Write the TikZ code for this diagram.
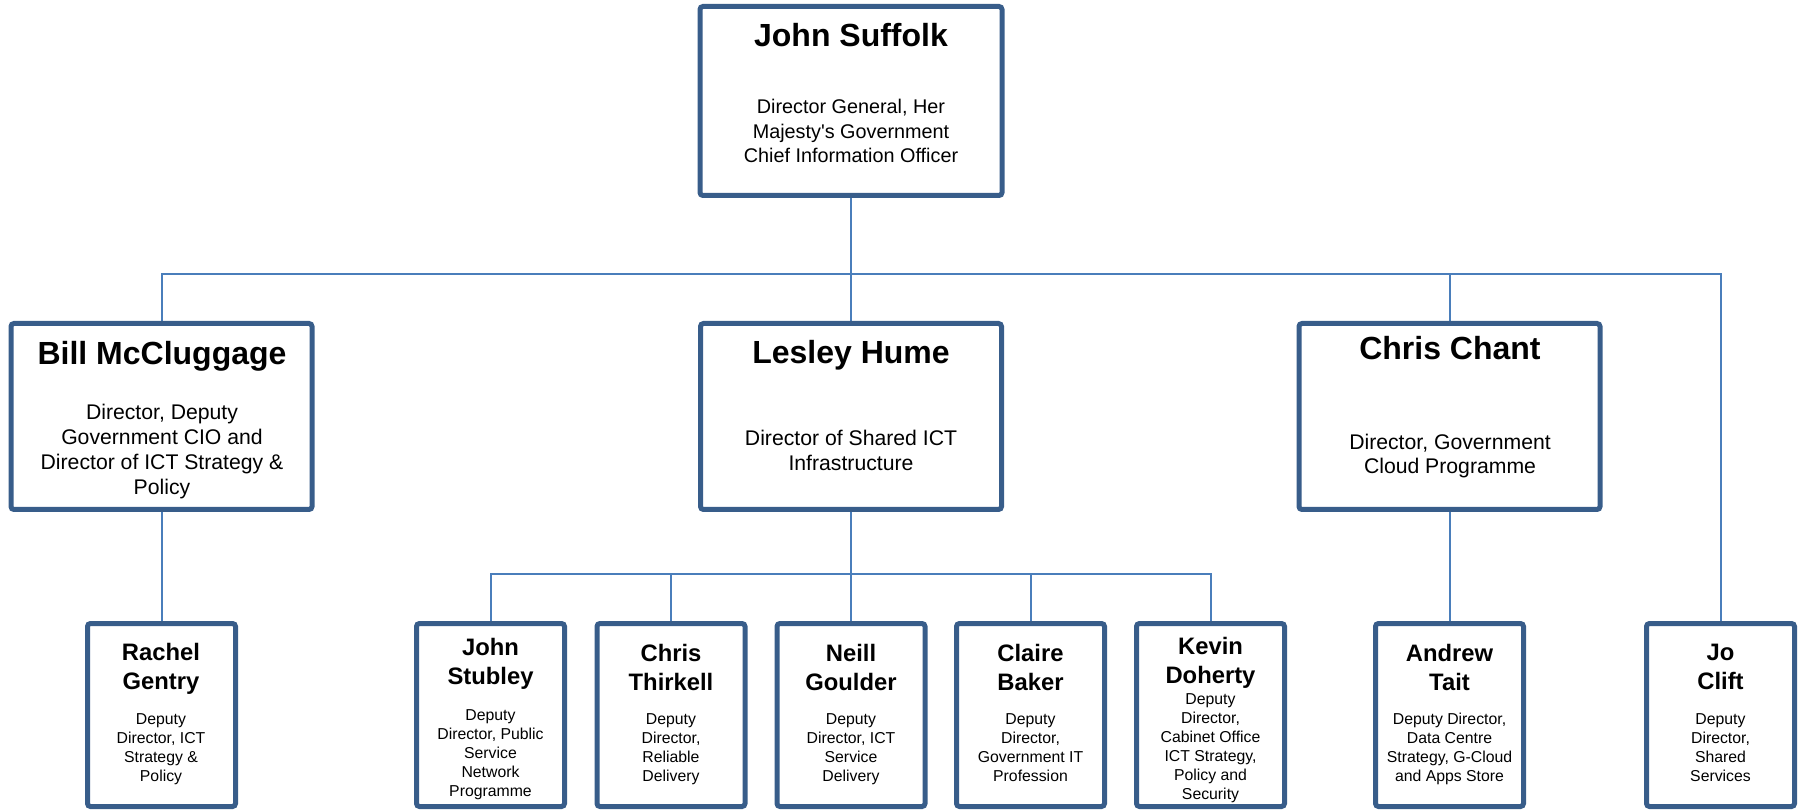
\documentclass[tikz,border=0pt]{standalone}
\usepackage{fontspec}
\setmainfont{Liberation Sans}[Ligatures=TeXOff]
\usetikzlibrary{backgrounds}

\definecolor{boxblue}{HTML}{385D8A}
\definecolor{lineblue}{HTML}{4A7EBB}

\tikzset{
	person/.style={draw=boxblue, line width=2.5pt, fill=white, rounded corners=1.5pt, inner sep=0pt},
	chief/.style={person, minimum width=151pt, minimum height=94.5pt},
	director/.style={person, minimum width=150.5pt, minimum height=93pt},
	deputy/.style={person, minimum width=74pt, minimum height=91.5pt},
	bigname/.style={font=\bfseries\fontsize{16}{19}\selectfont, inner sep=0pt, anchor=base},
	smallname/.style={font=\bfseries\fontsize{11.9}{14.5}\selectfont, align=center, inner sep=0pt, anchor=north},
	bigrole/.style={font=\fontsize{10.6}{12.5}\selectfont, align=center, inner sep=0pt, anchor=north},
	smallrole/.style={font=\fontsize{7.9}{9.5}\selectfont, align=center, inner sep=0pt, anchor=north},
	link/.style={draw=lineblue, line width=1pt}
}

\begin{document}
\begin{tikzpicture}[x=0.5pt, y=-0.5pt]
	\useasboundingbox (0,0) rectangle (1800,812);

	% top
	\node[chief] (suffolk) at (851,101) {};
	\node[bigname] (suffolkname) at (851,47) {John Suffolk};
	\node[bigrole, font=\fontsize{9.9}{12.25}\selectfont] (suffolkrole) at (851,99) {Director General, Her\\Majesty's Government\\Chief Information Officer};

	% directors
	\node[director] (mccluggage) at (161.5,416.5) {};
	\node[bigname] (mccluggagename) at (162,365) {Bill McCluggage};
	\node[bigrole] (mccluggagerole) at (162,404) {Director, Deputy\\Government CIO and\\Director of ICT Strategy \&\\Policy};

	\node[director] (hume) at (851,416.5) {};
	\node[bigname] (humename) at (851,364) {Lesley Hume};
	\node[bigrole] (humerole) at (851,430) {Director of Shared ICT\\Infrastructure};

	\node[director] (chant) at (1449.5,416.5) {};
	\node[bigname] (chantname) at (1450,360) {Chris Chant};
	\node[bigrole, font=\fontsize{10.6}{12}\selectfont] (chantrole) at (1450,434) {Director, Government\\Cloud Programme};

	% deputies
	\node[deputy] (gentry) at (161.5,715) {};
	\node[smallname] at (161,643) {Rachel\\Gentry};
	\node[smallrole] at (161,713) {Deputy\\Director, ICT\\Strategy \&\\Policy};

	\node[deputy] (stubley) at (490.5,715) {};
	\node[smallname] at (490.5,638) {John\\Stubley};
	\node[smallrole] at (490.5,709) {Deputy\\Director, Public\\Service\\Network\\Programme};

	\node[deputy] (thirkell) at (671,715) {};
	\node[smallname] at (671,644) {Chris\\Thirkell};
	\node[smallrole] at (671,713) {Deputy\\Director,\\Reliable\\Delivery};

	\node[deputy] (goulder) at (851,715) {};
	\node[smallname] at (851,644) {Neill\\Goulder};
	\node[smallrole] at (851,713) {Deputy\\Director, ICT\\Service\\Delivery};

	\node[deputy] (baker) at (1030.5,715) {};
	\node[smallname] at (1030.5,644) {Claire\\Baker};
	\node[smallrole] at (1030.5,713) {Deputy\\Director,\\Government IT\\Profession};

	\node[deputy] (doherty) at (1210.5,715) {};
	\node[smallname] at (1210.5,637) {Kevin\\Doherty};
	\node[smallrole] at (1210.5,693) {Deputy\\Director,\\Cabinet Office\\ICT Strategy,\\Policy and\\Security};

	\node[deputy] (tait) at (1449.5,715) {};
	\node[smallname] at (1449.5,644) {Andrew\\Tait};
	\node[smallrole] at (1449.5,713) {Deputy Director,\\Data Centre\\Strategy, G-Cloud\\and Apps Store};

	\node[deputy] (clift) at (1720.5,715) {};
	\node[smallname] at (1720.5,644) {Jo\\Clift};
	\node[smallrole] at (1720.5,713) {Deputy\\Director,\\Shared\\Services};

	% lines
	\coordinate (trunk) at (851,274);
	\coordinate (humebar) at (851,574);
	\begin{scope}[on background layer]
		\draw[link] (suffolk.south) -- (trunk);
		\draw[link] (mccluggage.north) |- (trunk) -| (clift.north);
		\draw[link] (trunk) -- (hume.north);
		\draw[link] (trunk) -| (chant.north);
		\draw[link] (mccluggage.south) -- (gentry.north);
		\draw[link] (chant.south) -- (tait.north);
		\draw[link] (hume.south) -- (humebar);
		\draw[link] (stubley.north) |- (humebar) -| (doherty.north);
		\foreach \who in {thirkell, goulder, baker}
			\draw[link] (\who.north) -- (\who.north |- humebar);
	\end{scope}
\end{tikzpicture}
\end{document}
